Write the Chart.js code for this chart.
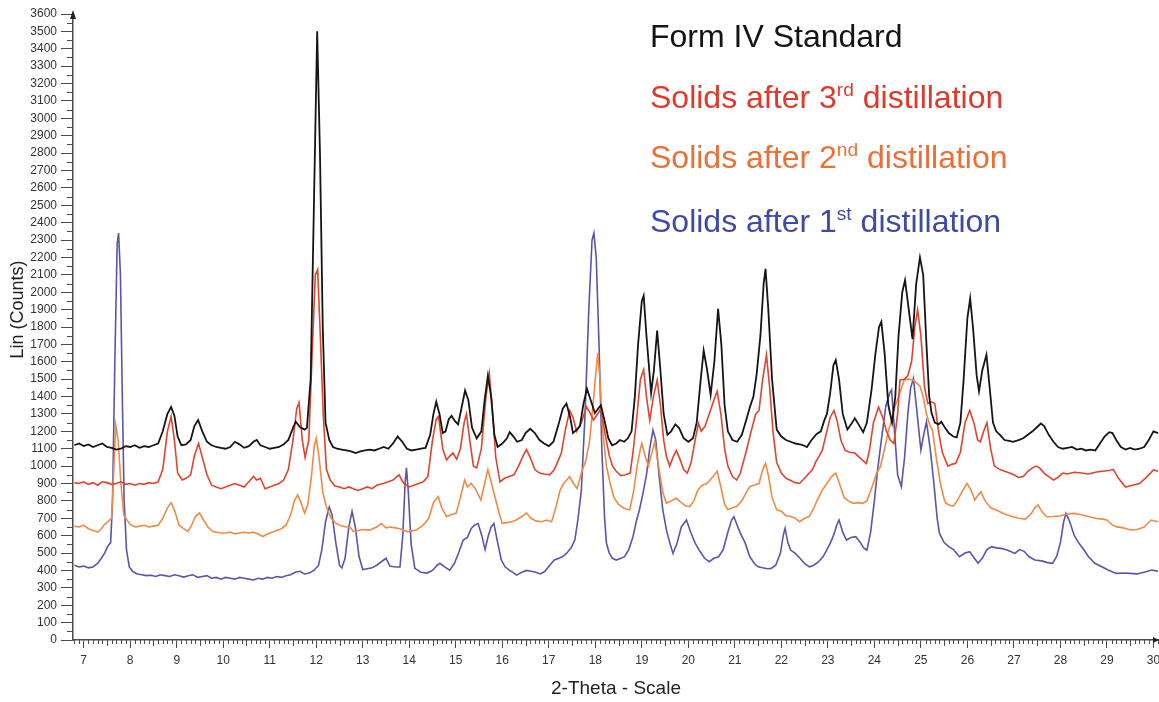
<!DOCTYPE html>
<html>
<head>
<meta charset="utf-8">
<script src="https://cdn.jsdelivr.net/npm/chart.js@4"></script>
<style>
  html, body { margin: 0; padding: 0; background: #fff; overflow: hidden; }
  .wrap { position: relative; width: 1159px; height: 702px; }
  .legend-line {
    position: absolute; left: 650px; margin: 0; white-space: nowrap;
    font-family: "Liberation Sans", Arial, sans-serif; font-size: 32px; line-height: 1;
  }
  .legend-line sup { font-size: 0.6em; vertical-align: 0.6em; line-height: 0; }
</style>
</head>
<body>
<div class="wrap">
  <canvas id="xrd"></canvas>
  <div class="legend-line" style="top:20px;color:#141414">Form IV Standard</div>
  <div class="legend-line" style="top:81px;color:#e0392a">Solids after 3<sup>rd</sup> distillation</div>
  <div class="legend-line" style="top:141px;color:#ec6f35">Solids after 2<sup>nd</sup> distillation</div>
  <div class="legend-line" style="top:205px;color:#3f4aa5">Solids after 1<sup>st</sup> distillation</div>
</div>
<script>
// tick labels
const xTicks = [7, 8, 9, 10, 11, 12, 13, 14, 15, 16, 17, 18, 19, 20, 21, 22, 23, 24, 25, 26, 27, 28, 29, 30];
const yTicks = [0, 100, 200, 300, 400, 500, 600, 700, 800, 900, 1000, 1100, 1200, 1300, 1400, 1500, 1600, 1700,
  1800, 1900, 2000, 2100, 2200, 2300, 2400, 2500, 2600, 2700, 2800, 2900, 3000, 3100, 3200, 3300, 3400, 3500, 3600];

// Form IV Standard
const formIvX = [6.8, 6.9, 7.0, 7.1, 7.2, 7.3, 7.4, 7.5, 7.6, 7.7,
  7.8, 7.9, 8.0, 8.1, 8.2, 8.3, 8.4, 8.5, 8.6, 8.7,
  8.8, 8.88, 8.95, 9.02, 9.1, 9.2, 9.3, 9.38, 9.46, 9.55,
  9.65, 9.75, 9.85, 9.95, 10.05, 10.15, 10.25, 10.35, 10.45, 10.55,
  10.65, 10.72, 10.8, 10.9, 11.0, 11.1, 11.2, 11.3, 11.4, 11.5,
  11.56, 11.65, 11.75, 11.8, 11.88, 11.95, 12.02, 12.08, 12.14, 12.2,
  12.28, 12.36, 12.45, 12.55, 12.65, 12.75, 12.85, 12.95, 13.05, 13.15,
  13.25, 13.35, 13.45, 13.55, 13.65, 13.75, 13.85, 13.95, 14.05, 14.15,
  14.25, 14.35, 14.45, 14.52, 14.58, 14.65, 14.72, 14.78, 14.85, 14.91,
  14.98, 15.05, 15.12, 15.2, 15.27, 15.35, 15.45, 15.55, 15.62, 15.69,
  15.76, 15.83, 15.9, 16.0, 16.1, 16.16, 16.24, 16.32, 16.42, 16.5,
  16.6, 16.7, 16.8, 16.9, 17.0, 17.1, 17.2, 17.3, 17.38, 17.46,
  17.52, 17.6, 17.67, 17.74, 17.82, 17.9, 17.99, 18.06, 18.12, 18.2,
  18.28, 18.36, 18.45, 18.53, 18.62, 18.7, 18.78, 18.85, 18.92, 19.0,
  19.04, 19.1, 19.2, 19.26, 19.33, 19.4, 19.47, 19.55, 19.63, 19.72,
  19.8, 19.9, 20.0, 20.1, 20.18, 20.26, 20.33, 20.4, 20.48, 20.56,
  20.64, 20.71, 20.78, 20.85, 20.95, 21.05, 21.15, 21.25, 21.33, 21.4,
  21.47, 21.55, 21.62, 21.66, 21.72, 21.8, 21.9, 22.0, 22.1, 22.2,
  22.3, 22.4, 22.47, 22.55, 22.65, 22.76, 22.85, 22.92, 22.98, 23.05,
  23.12, 23.17, 23.24, 23.32, 23.42, 23.5, 23.58, 23.66, 23.76, 23.84,
  23.94, 24.02, 24.1, 24.15, 24.22, 24.3, 24.38, 24.45, 24.52, 24.6,
  24.66, 24.74, 24.82, 24.9, 24.98, 25.05, 25.12, 25.18, 25.23, 25.3,
  25.38, 25.44, 25.52, 25.6, 25.7, 25.77, 25.85, 25.92, 26.0, 26.06,
  26.12, 26.2, 26.25, 26.32, 26.41, 26.48, 26.55, 26.62, 26.7, 26.8,
  26.9, 26.98, 27.1, 27.2, 27.3, 27.4, 27.5, 27.58, 27.65, 27.75,
  27.85, 27.95, 28.05, 28.15, 28.25, 28.35, 28.45, 28.55, 28.65, 28.75,
  28.85, 28.95, 29.05, 29.12, 29.2, 29.3, 29.4, 29.5, 29.6, 29.7,
  29.8, 29.9, 30.0, 30.1];
const formIvY = [1120, 1130, 1115, 1125, 1110, 1120, 1130, 1110, 1105, 1095,
  1100, 1115, 1110, 1120, 1105, 1115, 1110, 1120, 1130, 1200,
  1300, 1340, 1290, 1170, 1120, 1125, 1150, 1230, 1265, 1200,
  1140, 1120, 1110, 1105, 1100, 1110, 1140, 1125, 1105, 1115,
  1140, 1150, 1120, 1110, 1100, 1105, 1110, 1125, 1150, 1220,
  1255, 1225, 1210, 1220, 1500, 2500, 3500, 2800, 1800, 1250,
  1150, 1110, 1100, 1095, 1090, 1085, 1075, 1085, 1090, 1095,
  1090, 1100, 1110, 1100, 1130, 1170, 1140, 1100, 1090, 1095,
  1100, 1105, 1180, 1300, 1370, 1300, 1190, 1200, 1270, 1290,
  1260, 1240, 1330, 1435, 1380, 1220, 1160, 1200, 1380, 1520,
  1400, 1180, 1110, 1130, 1160, 1195, 1170, 1140, 1150, 1190,
  1215, 1190, 1150, 1130, 1115, 1140, 1230, 1330, 1360, 1280,
  1190, 1210, 1230, 1350, 1445, 1380, 1305, 1330, 1350, 1260,
  1160, 1120, 1130, 1150, 1140, 1160, 1200, 1400, 1700, 1950,
  1980, 1750, 1420, 1550, 1780, 1550, 1300, 1180, 1200, 1240,
  1220, 1160, 1140, 1160, 1250, 1480, 1665, 1560, 1410, 1600,
  1905, 1700, 1350, 1200, 1150, 1140, 1180, 1270, 1345, 1400,
  1530, 1750, 2050, 2135, 1900, 1500, 1210, 1170, 1150, 1140,
  1130, 1125, 1120, 1110, 1150, 1185, 1200, 1260, 1300, 1420,
  1580, 1610, 1500, 1300, 1210, 1240, 1275, 1240, 1195, 1250,
  1440, 1640, 1800, 1830, 1650, 1350, 1250, 1400, 1750, 2000,
  2070, 1900, 1730, 2050, 2200, 2100, 1700, 1400, 1305, 1250,
  1240, 1255, 1220, 1190, 1170, 1165, 1250, 1500, 1850, 1965,
  1800, 1520, 1430, 1550, 1640, 1450, 1250, 1200, 1180, 1150,
  1145, 1140, 1150, 1160, 1180, 1200, 1225, 1245, 1230, 1180,
  1140, 1110, 1100, 1105, 1110, 1095, 1100, 1090, 1095, 1090,
  1130, 1170, 1195, 1190, 1150, 1110, 1095, 1105, 1095, 1100,
  1110, 1150, 1200, 1190];

// Solids after 3rd distillation
const thirdX = [6.8, 6.9, 7.0, 7.1, 7.2, 7.3, 7.4, 7.5, 7.6, 7.7,
  7.8, 7.9, 8.0, 8.1, 8.2, 8.3, 8.4, 8.5, 8.6, 8.7,
  8.8, 8.88, 8.95, 9.02, 9.12, 9.2, 9.3, 9.38, 9.47, 9.55,
  9.65, 9.75, 9.85, 9.95, 10.05, 10.15, 10.25, 10.35, 10.45, 10.55,
  10.65, 10.72, 10.8, 10.9, 11.0, 11.1, 11.2, 11.3, 11.4, 11.5,
  11.58, 11.63, 11.7, 11.76, 11.84, 11.92, 11.98, 12.03, 12.08, 12.15,
  12.22, 12.3, 12.4, 12.5, 12.6, 12.7, 12.8, 12.9, 13.0, 13.1,
  13.2, 13.3, 13.44, 13.55, 13.65, 13.78, 13.88, 14.0, 14.1, 14.2,
  14.3, 14.4, 14.5, 14.58, 14.63, 14.72, 14.8, 14.88, 14.94, 15.02,
  15.1, 15.18, 15.23, 15.3, 15.38, 15.45, 15.55, 15.65, 15.72, 15.78,
  15.86, 15.95, 16.05, 16.15, 16.25, 16.35, 16.45, 16.52, 16.6, 16.7,
  16.8, 16.9, 17.02, 17.12, 17.2, 17.27, 17.35, 17.45, 17.52, 17.6,
  17.7, 17.81, 17.9, 17.96, 18.05, 18.12, 18.2, 18.3, 18.37, 18.45,
  18.55, 18.65, 18.75, 18.82, 18.9, 18.97, 19.04, 19.1, 19.17, 19.25,
  19.33, 19.4, 19.47, 19.53, 19.6, 19.67, 19.74, 19.82, 19.9, 19.98,
  20.06, 20.16, 20.22, 20.28, 20.36, 20.45, 20.55, 20.62, 20.7, 20.78,
  20.85, 20.95, 21.04, 21.12, 21.2, 21.25, 21.35, 21.45, 21.52, 21.6,
  21.68, 21.75, 21.82, 21.9, 22.0, 22.1, 22.18, 22.3, 22.39, 22.5,
  22.6, 22.67, 22.75, 22.82, 22.88, 22.96, 23.05, 23.13, 23.2, 23.28,
  23.37, 23.47, 23.58, 23.68, 23.76, 23.83, 23.9, 23.98, 24.09, 24.18,
  24.26, 24.34, 24.42, 24.5, 24.55, 24.65, 24.72, 24.8, 24.87, 24.93,
  25.0, 25.08, 25.15, 25.22, 25.3, 25.38, 25.46, 25.58, 25.66, 25.75,
  25.85, 25.95, 26.05, 26.14, 26.22, 26.28, 26.35, 26.42, 26.5, 26.58,
  26.7, 26.8, 26.91, 27.0, 27.1, 27.2, 27.3, 27.4, 27.48, 27.55,
  27.65, 27.75, 27.85, 27.95, 28.05, 28.15, 28.3, 28.45, 28.6, 28.75,
  28.9, 29.05, 29.14, 29.25, 29.4, 29.55, 29.7, 29.85, 30.0, 30.1];
const thirdY = [905, 900, 910, 895, 905, 890, 910, 905, 895, 900,
  910, 895, 900, 890, 900, 895, 905, 900, 910, 980,
  1200, 1285, 1150, 960, 920, 930, 950, 1060, 1130, 1050,
  950, 890, 880, 870, 880, 890, 900, 890, 880, 910,
  940, 920, 930, 870, 880, 890, 900, 920, 980, 1150,
  1330, 1365, 1150, 1050, 1150, 1700, 2100, 2130, 1800, 1300,
  980, 920, 885, 880, 870, 880, 870, 860, 870, 880,
  870, 890, 900, 910, 920, 950, 900, 880, 890, 900,
  910, 940, 1150, 1270, 1285, 1100, 1035, 1060, 1075, 1040,
  1100, 1250, 1300, 1150, 1000, 990, 1100, 1400, 1535, 1350,
  1050, 910, 930, 940, 950, 1000, 1060, 1095, 1050, 980,
  960, 955, 950, 980, 1030, 1075, 1200, 1320, 1280, 1200,
  1250, 1340, 1300, 1265, 1300, 1330, 1200, 1060, 1000, 970,
  945, 950, 960, 1100, 1300, 1500, 1555, 1400, 1265, 1400,
  1495, 1350, 1150, 1055, 1000, 1050, 1090, 1040, 980, 960,
  1020, 1170, 1245, 1200, 1230, 1300, 1380, 1430, 1300, 1100,
  1000, 940, 920, 960, 1040, 1090, 1200, 1300, 1320, 1500,
  1640, 1450, 1200, 1020, 960, 930, 920, 905, 900, 930,
  960, 980, 1030, 1060, 1090, 1180, 1280, 1320, 1260, 1150,
  1090, 1080, 1075, 1050, 1030, 1015, 1100, 1250, 1340, 1280,
  1200, 1150, 1130, 1300, 1495, 1500, 1520, 1600, 1800, 1900,
  1750, 1450, 1360, 1370, 1360, 1200, 1080, 1000, 1010, 1016,
  1080, 1250, 1320, 1250, 1150, 1140, 1200, 1250, 1100, 1000,
  980, 970, 960, 950, 935, 940, 970, 990, 1000, 990,
  960, 940, 920, 935, 960, 955, 965, 960, 955, 965,
  970, 975, 980, 930, 880, 890, 900, 935, 978, 970];

// Solids after 2nd distillation
const secondX = [6.8, 6.9, 7.0, 7.1, 7.2, 7.3, 7.38, 7.45, 7.52, 7.6,
  7.65, 7.69, 7.74, 7.8, 7.86, 7.93, 8.0, 8.1, 8.2, 8.3,
  8.4, 8.5, 8.6, 8.7, 8.8, 8.88, 8.96, 9.05, 9.15, 9.24,
  9.32, 9.4, 9.49, 9.58, 9.67, 9.77, 9.85, 9.95, 10.05, 10.15,
  10.25, 10.35, 10.45, 10.55, 10.65, 10.75, 10.85, 10.95, 11.05, 11.15,
  11.25, 11.35, 11.45, 11.53, 11.6, 11.67, 11.75, 11.82, 11.9, 11.96,
  12.0, 12.06, 12.14, 12.22, 12.32, 12.43, 12.55, 12.65, 12.72, 12.8,
  12.9, 13.0, 13.15, 13.3, 13.4, 13.5, 13.6, 13.7, 13.8, 13.97,
  14.15, 14.3, 14.42, 14.52, 14.62, 14.7, 14.8, 14.9, 15.01, 15.1,
  15.19, 15.25, 15.33, 15.42, 15.54, 15.62, 15.69, 15.77, 15.86, 15.94,
  16.0, 16.1, 16.2, 16.3, 16.42, 16.52, 16.62, 16.72, 16.85, 16.95,
  17.06, 17.15, 17.24, 17.32, 17.45, 17.53, 17.61, 17.7, 17.8, 17.88,
  17.95, 18.0, 18.05, 18.1, 18.16, 18.24, 18.32, 18.4, 18.5, 18.6,
  18.7, 18.74, 18.82, 18.9, 18.97, 19.0, 19.08, 19.14, 19.22, 19.28,
  19.36, 19.45, 19.53, 19.63, 19.74, 19.85, 19.95, 20.03, 20.12, 20.2,
  20.3, 20.4, 20.5, 20.62, 20.7, 20.78, 20.85, 20.95, 21.04, 21.15,
  21.25, 21.32, 21.42, 21.52, 21.6, 21.66, 21.72, 21.8, 21.9, 22.0,
  22.1, 22.2, 22.3, 22.39, 22.5, 22.6, 22.7, 22.8, 22.88, 22.98,
  23.08, 23.17, 23.25, 23.35, 23.44, 23.55, 23.65, 23.75, 23.84, 23.95,
  24.05, 24.13, 24.22, 24.3, 24.35, 24.45, 24.55, 24.64, 24.74, 24.83,
  24.9, 24.98, 25.05, 25.12, 25.2, 25.25, 25.33, 25.42, 25.5, 25.54,
  25.62, 25.7, 25.78, 25.88, 25.99, 26.08, 26.16, 26.22, 26.29, 26.38,
  26.5, 26.62, 26.75, 26.85, 26.98, 27.1, 27.25, 27.38, 27.45, 27.52,
  27.6, 27.7, 27.85, 28.0, 28.15, 28.3, 28.45, 28.6, 28.75, 28.9,
  29.0, 29.1, 29.2, 29.35, 29.5, 29.65, 29.8, 29.95, 30.1];
const secondY = [655, 650, 660, 640, 630, 620, 640, 665, 680, 700,
  1000, 1235, 1150, 900, 720, 690, 665, 650, 655, 660,
  650, 655, 660, 700, 760, 790, 740, 660, 640, 625,
  660, 710, 730, 690, 650, 625, 620, 615, 615, 620,
  610, 615, 620, 615, 620, 610, 595, 610, 620, 630,
  640, 660, 720, 800, 835, 790, 730, 780, 950, 1120,
  1160, 1050, 850, 765, 700, 670, 655, 650, 650, 625,
  630, 635, 632, 650, 670, 645, 650, 645, 640, 622,
  632, 660, 700, 790, 825, 760, 710, 720, 730, 820,
  920, 880, 900, 870, 805, 900, 980, 900, 805, 720,
  671, 675, 680, 690, 710, 730, 700, 685, 680, 690,
  680, 760, 860, 900, 940, 900, 872, 960, 1035, 1150,
  1350, 1500, 1650, 1500, 1200, 1000, 900, 820, 780, 760,
  750, 748, 850, 1000, 1100, 1131, 1050, 1000, 1080, 1140,
  1000, 850, 786, 800, 815, 790, 770, 767, 800, 860,
  890, 900, 930, 970, 880, 780, 750, 760, 767, 800,
  850, 882, 892, 900, 980, 1016, 950, 820, 748, 740,
  715, 710, 700, 680, 700, 710, 760, 820, 862, 900,
  940, 960, 900, 820, 800, 786, 790, 786, 800, 880,
  960, 997, 1100, 1200, 1246, 1350, 1420, 1495, 1500, 1495,
  1480, 1460, 1400, 1300, 1230, 1207, 1050, 900, 810, 786,
  775, 770, 800, 850, 900, 860, 805, 830, 853, 800,
  760, 748, 730, 720, 709, 700, 695, 730, 760, 777,
  740, 709, 710, 715, 725, 728, 720, 710, 700, 695,
  690, 665, 652, 645, 633, 635, 650, 690, 680];

// Solids after 1st distillation
const firstX = [6.8, 6.9, 7.0, 7.1, 7.2, 7.3, 7.38, 7.45, 7.52, 7.58,
  7.62, 7.67, 7.72, 7.75, 7.79, 7.83, 7.87, 7.92, 7.98, 8.05,
  8.15, 8.25, 8.35, 8.45, 8.55, 8.65, 8.75, 8.85, 8.95, 9.05,
  9.15, 9.25, 9.35, 9.45, 9.55, 9.65, 9.75, 9.85, 9.95, 10.05,
  10.15, 10.25, 10.35, 10.45, 10.55, 10.65, 10.75, 10.85, 10.95, 11.05,
  11.15, 11.25, 11.35, 11.45, 11.55, 11.65, 11.75, 11.85, 11.95, 12.05,
  12.12, 12.2, 12.28, 12.34, 12.42, 12.5, 12.55, 12.62, 12.7, 12.77,
  12.84, 12.92, 13.0, 13.1, 13.2, 13.3, 13.4, 13.5, 13.58, 13.7,
  13.8, 13.86, 13.91, 13.94, 13.98, 14.04, 14.12, 14.25, 14.38, 14.5,
  14.6, 14.66, 14.76, 14.87, 14.97, 15.06, 15.16, 15.25, 15.33, 15.4,
  15.48, 15.56, 15.63, 15.7, 15.76, 15.82, 15.9, 15.98, 16.06, 16.16,
  16.25, 16.31, 16.42, 16.52, 16.62, 16.72, 16.82, 16.92, 17.02, 17.12,
  17.22, 17.3, 17.38, 17.48, 17.56, 17.63, 17.7, 17.78, 17.86, 17.93,
  17.97, 18.02, 18.08, 18.14, 18.2, 18.24, 18.3, 18.37, 18.45, 18.55,
  18.63, 18.72, 18.81, 18.88, 18.95, 19.03, 19.1, 19.17, 19.24, 19.3,
  19.37, 19.45, 19.53, 19.6, 19.67, 19.75, 19.85, 19.96, 20.05, 20.15,
  20.25, 20.35, 20.45, 20.55, 20.65, 20.75, 20.85, 20.93, 20.98, 21.05,
  21.12, 21.22, 21.32, 21.42, 21.5, 21.6, 21.7, 21.78, 21.88, 21.98,
  22.04, 22.08, 22.14, 22.2, 22.3, 22.4, 22.5, 22.6, 22.7, 22.8,
  22.9, 22.98, 23.05, 23.12, 23.19, 23.24, 23.32, 23.4, 23.5, 23.6,
  23.7, 23.77, 23.84, 23.92, 24.0, 24.07, 24.15, 24.25, 24.33, 24.37,
  24.42, 24.5, 24.58, 24.65, 24.72, 24.78, 24.84, 24.92, 25.0, 25.06,
  25.12, 25.2, 25.28, 25.35, 25.4, 25.5, 25.6, 25.7, 25.83, 25.95,
  26.05, 26.15, 26.23, 26.32, 26.42, 26.52, 26.62, 26.72, 26.82, 26.92,
  27.02, 27.12, 27.22, 27.32, 27.45, 27.6, 27.72, 27.83, 27.92, 28.0,
  28.07, 28.12, 28.2, 28.3, 28.4, 28.5, 28.6, 28.74, 28.9, 29.05,
  29.2, 29.35, 29.5, 29.65, 29.8, 29.97, 30.1];
const firstY = [430, 420, 425, 415, 420, 440, 470, 500, 540, 560,
  800, 1600, 2280, 2340, 2100, 1400, 800, 520, 420, 395,
  380, 375, 370, 372, 365, 375, 370, 365, 375, 370,
  362, 370, 375, 360, 365, 370, 355, 360, 350, 360,
  355, 350, 360, 355, 350, 345, 355, 350, 360, 355,
  365, 360, 370, 375, 390, 395, 380, 385, 400, 430,
  520, 680, 765, 720, 560, 430, 414, 470, 650, 740,
  650, 480, 405, 410, 415, 430, 450, 470, 425, 420,
  420, 600, 900, 990, 850, 550, 412, 390, 385, 400,
  430, 441, 420, 402, 440, 500, 575, 590, 640, 660,
  670, 600, 520, 600, 650, 670, 560, 460, 421, 400,
  385, 373, 390, 400, 395, 390, 380, 395, 430, 460,
  470, 480, 498, 530, 575, 700, 862, 1300, 1900, 2300,
  2340, 2200, 1700, 1100, 700, 556, 500, 470, 460, 470,
  479, 520, 594, 680, 750, 850, 950, 1100, 1207, 1150,
  950, 750, 632, 560, 498, 550, 650, 690, 620, 556,
  510, 470, 450, 470, 479, 520, 620, 690, 709, 660,
  613, 560, 480, 440, 421, 415, 410, 412, 430, 500,
  600, 642, 560, 517, 498, 470, 440, 421, 430, 450,
  480, 520, 556, 600, 660, 690, 620, 575, 590, 594,
  560, 530, 517, 620, 800, 978, 1150, 1350, 1420, 1438,
  1250, 950, 882, 1050, 1300, 1450, 1505, 1300, 1092, 1180,
  1255, 1100, 900, 700, 613, 560, 537, 520, 479, 500,
  508, 470, 441, 470, 520, 537, 530, 527, 520, 510,
  498, 520, 510, 480, 460, 455, 445, 441, 480, 560,
  680, 728, 680, 600, 556, 520, 480, 441, 420, 400,
  383, 385, 383, 380, 390, 402, 395];

const toPoints = (xs, ys) => xs.map((x, i) => ({ x, y: ys[i] }));

const axisColor = '#4a4a4a';
const fontFamily = 'Liberation Sans, Arial, sans-serif';
const tickFont = { family: fontFamily, size: 12 };
const yTitle = 'Lin (Counts)';

// small ticks between the labelled ones, the arrow heads and the y title
const axisExtras = {
  id: 'axisExtras',
  afterDraw(chart) {
    const { ctx, scales: { x, y } } = chart;
    ctx.save();
    ctx.strokeStyle = axisColor;
    ctx.lineWidth = 1;
    ctx.beginPath();
    for (let i = Math.ceil(x.min * 10); i <= Math.floor(x.max * 10); i++) {
      if (i % 10 === 0) continue;
      const px = Math.round(x.getPixelForValue(i / 10)) + 0.5;
      const len = i % 5 === 0 ? 6 : 4;
      ctx.moveTo(px, x.top);
      ctx.lineTo(px, x.top + len);
    }
    for (let v = 50; v < y.max; v += 100) {
      const py = Math.round(y.getPixelForValue(v)) + 0.5;
      ctx.moveTo(y.right - 6, py);
      ctx.lineTo(y.right, py);
    }
    ctx.stroke();

    ctx.fillStyle = '#222';
    ctx.beginPath();
    ctx.moveTo(y.right, y.top - 4);
    ctx.lineTo(y.right - 3, y.top + 5);
    ctx.lineTo(y.right + 3, y.top + 5);
    ctx.fill();
    ctx.beginPath();
    ctx.moveTo(x.right, x.top);
    ctx.lineTo(x.right - 6, x.top - 3);
    ctx.lineTo(x.right - 6, x.top + 3);
    ctx.fill();

    // y title sits a bit above the middle of the axis in the original
    ctx.translate(18, y.getPixelForValue(1900));
    ctx.rotate(-Math.PI / 2);
    ctx.font = `18px ${fontFamily}`;
    ctx.fillStyle = '#222';
    ctx.textAlign = 'center';
    ctx.textBaseline = 'middle';
    ctx.fillText(yTitle, 0, 0);
    ctx.restore();
  }
};

const line = (label, xs, ys, color, width) => ({
  label,
  data: toPoints(xs, ys),
  borderColor: color,
  borderWidth: width,
  pointRadius: 0,
  tension: 0,
  fill: false,
});

new Chart(document.getElementById('xrd'), {
  type: 'line',
  data: {
    datasets: [
      line('Form IV Standard', formIvX, formIvY, '#151515', 1.8),
      line('Solids after 3rd distillation', thirdX, thirdY, '#e2432c', 1.6),
      line('Solids after 2nd distillation', secondX, secondY, '#f08a45', 1.6),
      line('Solids after 1st distillation', firstX, firstY, '#5856ab', 1.6),
    ],
  },
  options: {
    responsive: true,
    maintainAspectRatio: false,
    animation: false,
    layout: { padding: { top: 14, right: 0, left: 0, bottom: 0 } },
    plugins: { legend: { display: false }, tooltip: { enabled: false } },
    scales: {
      x: {
        type: 'linear',
        min: 6.77,
        max: 30.12,
        afterBuildTicks: (scale) => { scale.ticks = xTicks.map((v) => ({ value: v })); },
        afterFit: (scale) => { scale.height = 62; scale.paddingLeft = 0; scale.paddingRight = 0; },
        ticks: { font: tickFont, color: '#333', padding: 5, autoSkip: false, maxRotation: 0 },
        grid: { drawOnChartArea: false, tickLength: 8, tickColor: axisColor },
        border: { color: axisColor, width: 1.5 },
        title: { display: true, text: '2-Theta - Scale', font: { family: fontFamily, size: 19 }, color: '#222', padding: { top: 2, bottom: 2 } },
      },
      y: {
        min: 0,
        max: 3600,
        afterBuildTicks: (scale) => { scale.ticks = yTicks.map((v) => ({ value: v })); },
        afterFit: (scale) => { scale.width = 73; scale.paddingTop = 0; scale.paddingBottom = 0; },
        ticks: { font: tickFont, color: '#333', padding: 4, autoSkip: false, callback: (v) => String(v) },
        grid: { drawOnChartArea: false, tickLength: 12, tickColor: axisColor },
        border: { color: axisColor, width: 1.5 },
      },
    },
  },
  plugins: [axisExtras],
});
</script>
</body>
</html>
